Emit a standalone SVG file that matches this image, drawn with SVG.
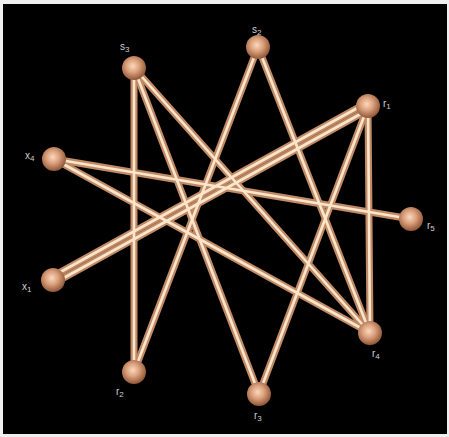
<svg xmlns="http://www.w3.org/2000/svg" width="449" height="437" viewBox="0 0 449 437">
<style>
.tube-o{stroke:#c08a66;stroke-width:7;stroke-linecap:round;fill:none}
.tube-i{stroke:#fbe6cc;stroke-width:2.6;stroke-linecap:round;fill:none}
.ball{fill:url(#sph)}
.lbl{font-family:"Liberation Sans",Arial,sans-serif;font-size:10px;fill:#cfcfcf}
.sub{font-size:8px}
</style>
<defs>
<radialGradient id="sph" cx="0.45" cy="0.42" r="0.6">
<stop offset="0" stop-color="#fbd8bf"/>
<stop offset="0.45" stop-color="#dba07c"/>
<stop offset="1" stop-color="#8a5233"/>
</radialGradient>
<g id="edges">
<line x1="134" y1="68" x2="134" y2="372"/>
<line x1="134" y1="68" x2="259" y2="394"/>
<line x1="134" y1="68" x2="370" y2="333"/>
<line x1="258" y1="47" x2="134" y2="372"/>
<line x1="258" y1="47" x2="370" y2="333"/>
<line x1="368" y1="106" x2="259" y2="394"/>
<line x1="368" y1="106" x2="370" y2="333"/>
<line x1="54" y1="159" x2="411" y2="219"/>
<line x1="54" y1="159" x2="370" y2="333"/>
<line x1="369.6" y1="109" x2="54.6" y2="283"/>
<line x1="366.4" y1="103" x2="51.4" y2="277"/>
</g>
</defs>
<rect x="0" y="0" width="449" height="437" fill="#efefef"/>
<rect x="3" y="4" width="444" height="430" fill="#000"/>
<g id="connectors">
<use href="#edges" class="tube-o"/>
<use href="#edges" class="tube-i"/>
</g>
<g id="s3"><circle class="ball" cx="134" cy="68" r="12"/><text class="lbl" x="120" y="50">s<tspan class="sub" dy="2">3</tspan></text></g>
<g id="s2"><circle class="ball" cx="258" cy="47" r="12"/><text class="lbl" x="252" y="33">s<tspan class="sub" dy="2">2</tspan></text></g>
<g id="r1"><circle class="ball" cx="368" cy="106" r="12"/><text class="lbl" x="383" y="107">r<tspan class="sub" dy="2">1</tspan></text></g>
<g id="r5"><circle class="ball" cx="411" cy="219" r="12"/><text class="lbl" x="427" y="229">r<tspan class="sub" dy="2">5</tspan></text></g>
<g id="r4"><circle class="ball" cx="370" cy="333" r="12"/><text class="lbl" x="372" y="357">r<tspan class="sub" dy="2">4</tspan></text></g>
<g id="r3"><circle class="ball" cx="259" cy="394" r="12"/><text class="lbl" x="254" y="419">r<tspan class="sub" dy="2">3</tspan></text></g>
<g id="r2"><circle class="ball" cx="134" cy="372" r="12"/><text class="lbl" x="116" y="395">r<tspan class="sub" dy="2">2</tspan></text></g>
<g id="x1"><circle class="ball" cx="53" cy="280" r="12"/><text class="lbl" x="22" y="290">x<tspan class="sub" dy="2">1</tspan></text></g>
<g id="x4"><circle class="ball" cx="54" cy="159" r="12"/><text class="lbl" x="25" y="159">x<tspan class="sub" dy="2">4</tspan></text></g>
</svg>
